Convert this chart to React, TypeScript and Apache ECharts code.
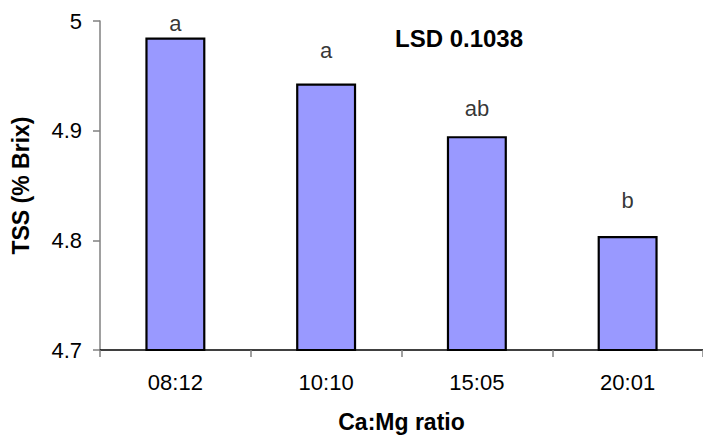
import React, { useEffect, useRef } from "react";
import * as echarts from "echarts";

const categories = ["08:12", "10:10", "15:05", "20:01"];
const tssValues = [4.985, 4.943, 4.895, 4.804];
const letters = ["a", "a", "ab", "b"];
const letterY = [4.998, 4.973, 4.92, 4.836];
const yTicks = { min: 4.7, max: 5.0, interval: 0.1 };
const lsdText = "LSD 0.1038";

const FONT = "'Liberation Sans', Arial, sans-serif";

export default function App() {
  const ref = useRef<HTMLDivElement>(null);
  useEffect(() => {
    if (!ref.current) return;
    const chart = echarts.init(ref.current, undefined, { renderer: "svg" });
    chart.setOption({
      animation: false,
      backgroundColor: "#ffffff",
      textStyle: { fontFamily: FONT },
      grid: { left: 100, top: 21, width: 610, height: 329, containLabel: false },
      xAxis: {
        type: "category",
        data: categories,
        boundaryGap: true,
        name: "Ca:Mg ratio",
        nameLocation: "middle",
        nameGap: 60,
        nameTextStyle: { fontFamily: FONT, fontSize: 23, fontWeight: "bold", color: "#000" },
        axisLine: { show: true, lineStyle: { color: "#000", width: 1.5 } },
        axisTick: { show: true, alignWithLabel: false, length: 7, lineStyle: { color: "#808080", width: 1.5 } },
        axisLabel: { fontFamily: FONT, fontSize: 22, color: "#000", margin: 21 },
        splitLine: { show: false },
      },
      yAxis: {
        type: "value",
        min: yTicks.min,
        max: yTicks.max,
        interval: yTicks.interval,
        name: "TSS (% Brix)",
        nameLocation: "middle",
        nameGap: 68,
        nameTextStyle: { fontFamily: FONT, fontSize: 23, fontWeight: "bold", color: "#000" },
        axisLine: { show: true, lineStyle: { color: "#808080", width: 1.5 } },
        axisTick: { show: true, length: 7, lineStyle: { color: "#808080", width: 1.5 } },
        axisLabel: {
          fontFamily: FONT,
          fontSize: 22,
          color: "#000",
          margin: 18,
          formatter: (v: number) => String(+v.toFixed(1)),
        },
        splitLine: { show: false },
      },
      series: [
        {
          type: "bar",
          data: tssValues,
          barWidth: 60,
          itemStyle: { color: "#9999FF", borderColor: "#000", borderWidth: 2.2 },
        },
        {
          type: "scatter",
          data: letterY.map((v, i) => [i, v]),
          symbolSize: 0,
          clip: false,
          silent: true,
          label: {
            show: true,
            position: "inside",
            fontFamily: FONT,
            fontSize: 22,
            color: "#000",
            formatter: (p: any) => letters[p.dataIndex],
          },
        },
      ],
      graphic: [
        {
          type: "text",
          x: 459,
          y: 38.5,
          style: {
            text: lsdText,
            fontFamily: FONT,
            fontSize: 24,
            fontWeight: "bold",
            fill: "#000",
            align: "center",
            verticalAlign: "middle",
          },
        },
      ],
    });
    return () => chart.dispose();
  }, []);
  return (
    <div
      ref={ref}
      style={{ position: "fixed", left: 0, top: 0, width: 703, height: 439 }}
    />
  );
}
